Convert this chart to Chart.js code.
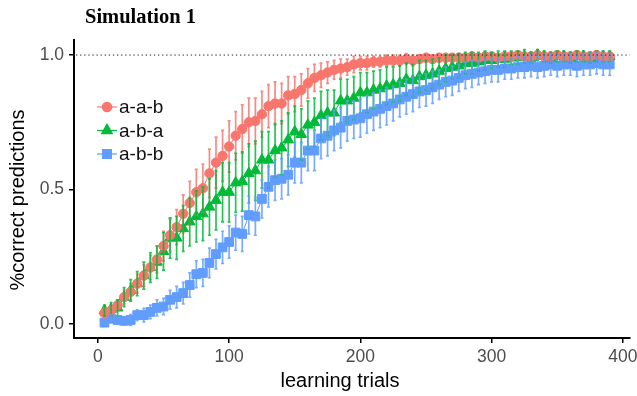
<!DOCTYPE html>
<html>
<head>
<meta charset="utf-8">
<script src="https://cdn.jsdelivr.net/npm/chart.js@4.4.0/dist/chart.umd.min.js"></script>
<style>
  html, body { margin: 0; padding: 0; background: #fff; }
  #wrap { width: 637px; height: 396px; position: relative; }
</style>
</head>
<body>
<div id="wrap"><canvas id="chart" width="637" height="396"></canvas></div>
<script>
// data
const trials = [
  5, 10, 15, 20, 25, 30, 35, 40, 45, 50,
  55, 60, 65, 70, 75, 80, 85, 90, 95, 100,
  105, 110, 115, 120, 125, 130, 135, 140, 145, 150,
  155, 160, 165, 170, 175, 180, 185, 190, 195, 200,
  205, 210, 215, 220, 225, 230, 235, 240, 245, 250,
  255, 260, 265, 270, 275, 280, 285, 290, 295, 300,
  305, 310, 315, 320, 325, 330, 335, 340, 345, 350,
  355, 360, 365, 370, 375, 380, 385, 390
];

const seriesLabels = ['a-a-b', 'a-b-a', 'a-b-b'];

const aabMean = [
  0.04, 0.05, 0.07, 0.10, 0.12, 0.15, 0.18, 0.21, 0.24, 0.29,
  0.33, 0.36, 0.41, 0.45, 0.49, 0.505, 0.56, 0.60, 0.625, 0.66,
  0.70, 0.725, 0.75, 0.755, 0.78, 0.81, 0.82, 0.82, 0.85, 0.855,
  0.87, 0.895, 0.915, 0.925, 0.935, 0.945, 0.95, 0.955, 0.965, 0.97,
  0.97, 0.975, 0.975, 0.98, 0.98, 0.98, 0.985, 0.98, 0.985, 0.99,
  0.985, 0.99, 0.99, 0.99, 0.99, 0.99, 0.995, 0.99, 0.995, 0.995,
  0.99, 0.995, 0.995, 1.0, 0.995, 0.995, 1.0, 0.995, 0.995, 1.0,
  0.995, 0.995, 1.0, 0.995, 0.995, 1.0, 0.995, 0.995
];
const abaMean = [
  0.05, 0.055, 0.06, 0.10, 0.125, 0.15, 0.18, 0.21, 0.23, 0.27,
  0.32, 0.32, 0.355, 0.38, 0.40, 0.41, 0.435, 0.46, 0.49, 0.49,
  0.525, 0.53, 0.56, 0.57, 0.61, 0.61, 0.645, 0.655, 0.685, 0.715,
  0.705, 0.74, 0.75, 0.775, 0.785, 0.785, 0.83, 0.83, 0.84, 0.86,
  0.86, 0.87, 0.875, 0.885, 0.89, 0.895, 0.91, 0.905, 0.92, 0.925,
  0.93, 0.94, 0.95, 0.955, 0.96, 0.97, 0.97, 0.975, 0.98, 0.98,
  0.985, 0.985, 0.99, 0.99, 0.995, 0.99, 1.0, 0.995, 0.99, 0.995,
  0.995, 0.99, 0.995, 0.995, 0.99, 0.995, 0.995, 0.995
];
const abbMean = [
  0.005, 0.02, 0.015, 0.012, 0.015, 0.033, 0.033, 0.045, 0.06, 0.065,
  0.09, 0.10, 0.115, 0.145, 0.185, 0.19, 0.227, 0.26, 0.285, 0.305,
  0.34, 0.335, 0.405, 0.40, 0.465, 0.51, 0.535, 0.54, 0.555, 0.60,
  0.60, 0.645, 0.645, 0.69, 0.70, 0.72, 0.73, 0.755, 0.76, 0.765,
  0.78, 0.79, 0.80, 0.81, 0.82, 0.835, 0.845, 0.855, 0.865, 0.87,
  0.88, 0.89, 0.90, 0.905, 0.915, 0.925, 0.93, 0.935, 0.94, 0.945,
  0.945, 0.95, 0.95, 0.955, 0.955, 0.96, 0.955, 0.96, 0.965, 0.96,
  0.965, 0.965, 0.96, 0.965, 0.965, 0.97, 0.965, 0.965
];

// error bar half widths
const aabErr = [
  0.02, 0.02, 0.02, 0.025, 0.03, 0.035, 0.04, 0.045, 0.05, 0.055,
  0.06, 0.065, 0.07, 0.08, 0.085, 0.09, 0.09, 0.095, 0.095, 0.095,
  0.09, 0.09, 0.09, 0.085, 0.085, 0.08, 0.08, 0.075, 0.07, 0.065,
  0.06, 0.055, 0.05, 0.045, 0.04, 0.035, 0.035, 0.03, 0.03, 0.025,
  0.025, 0.02, 0.02, 0.02, 0.02, 0.02, 0.02, 0.02, 0.015, 0.015,
  0.015, 0.015, 0.015, 0.015, 0.015, 0.01, 0.01, 0.01, 0.01, 0.01,
  0.01, 0.01, 0.01, 0.01, 0.01, 0.01, 0.01, 0.01, 0.01, 0.01,
  0.01, 0.01, 0.01, 0.01, 0.01, 0.01, 0.01, 0.01
];
const abaErr = [
  0.02, 0.025, 0.03, 0.035, 0.04, 0.045, 0.05, 0.055, 0.06, 0.07,
  0.075, 0.08, 0.085, 0.09, 0.095, 0.10, 0.105, 0.11, 0.11, 0.11,
  0.11, 0.11, 0.11, 0.11, 0.105, 0.105, 0.10, 0.10, 0.10, 0.095,
  0.095, 0.09, 0.09, 0.09, 0.085, 0.085, 0.08, 0.08, 0.08, 0.075,
  0.075, 0.07, 0.07, 0.07, 0.065, 0.065, 0.06, 0.06, 0.06, 0.055,
  0.055, 0.05, 0.05, 0.045, 0.045, 0.04, 0.04, 0.035, 0.035, 0.03,
  0.03, 0.03, 0.025, 0.025, 0.025, 0.02, 0.02, 0.02, 0.02, 0.02,
  0.02, 0.02, 0.02, 0.02, 0.02, 0.02, 0.02, 0.02
];
const abbErr = [
  0.01, 0.015, 0.015, 0.015, 0.02, 0.02, 0.025, 0.025, 0.03, 0.03,
  0.035, 0.04, 0.04, 0.045, 0.05, 0.05, 0.055, 0.055, 0.06, 0.06,
  0.065, 0.065, 0.07, 0.07, 0.07, 0.075, 0.075, 0.075, 0.075, 0.075,
  0.075, 0.075, 0.075, 0.075, 0.075, 0.075, 0.075, 0.075, 0.07, 0.07,
  0.07, 0.07, 0.07, 0.07, 0.065, 0.065, 0.065, 0.065, 0.06, 0.06,
  0.06, 0.055, 0.055, 0.055, 0.05, 0.05, 0.05, 0.045, 0.045, 0.045,
  0.045, 0.04, 0.04, 0.04, 0.04, 0.04, 0.04, 0.04, 0.04, 0.04,
  0.04, 0.04, 0.04, 0.04, 0.04, 0.04, 0.04, 0.04
];

const xTicks = [0, 100, 200, 300, 400];
const yTicks = [0, 0.5, 1.0];
const refLine = 1.0;

const colors = ['#F8766D', '#00BA38', '#619CFF'];
const styles = ['circle', 'triangle', 'rect'];
const radii = [4.7, 6.2, 6.2];
const means = [aabMean, abaMean, abbMean];
const errs = [aabErr, abaErr, abbErr];

const sansFont = '"Liberation Sans", Arial, sans-serif';

const extras = {
  id: 'extras',
  afterDatasetsDraw(chart) {
    const { ctx, chartArea } = chart;
    const xs = chart.scales.x, ys = chart.scales.y;

    // error bars on top of points, like the ggplot layer order
    ctx.save();
    ctx.globalAlpha = 0.85;
    ctx.lineWidth = 1.7;
    means.forEach((m, s) => {
      ctx.strokeStyle = colors[s];
      trials.forEach((t, i) => {
        const px = xs.getPixelForValue(t);
        const lo = ys.getPixelForValue(m[i] - errs[s][i]);
        const hi = ys.getPixelForValue(m[i] + errs[s][i]);
        ctx.beginPath();
        ctx.moveTo(px, lo); ctx.lineTo(px, hi);
        ctx.moveTo(px - 1.5, lo); ctx.lineTo(px + 1.5, lo);
        ctx.moveTo(px - 1.5, hi); ctx.lineTo(px + 1.5, hi);
        ctx.stroke();
      });
    });
    ctx.restore();

    // dotted reference line at 1.0
    const yy = ys.getPixelForValue(refLine);
    ctx.save();
    ctx.strokeStyle = '#222';
    ctx.lineWidth = 1;
    ctx.setLineDash([1.3, 2.8]);
    ctx.beginPath();
    ctx.moveTo(chartArea.left + 2, yy);
    ctx.lineTo(chartArea.right, yy);
    ctx.stroke();
    ctx.restore();
  },
  afterDraw(chart) {
    const { ctx } = chart;
    ctx.save();
    // title
    ctx.fillStyle = '#000';
    ctx.font = 'bold 20.5px "Liberation Serif", serif';
    ctx.textBaseline = 'middle';
    ctx.textAlign = 'left';
    ctx.fillText('Simulation 1', 85, 18);

    // axis titles
    ctx.font = '20px ' + sansFont;
    ctx.textAlign = 'center';
    ctx.fillText('learning trials', 340, 381);
    ctx.save();
    ctx.translate(18, 200);
    ctx.rotate(-Math.PI / 2);
    ctx.fillText('%correct predictions', 0, 0);
    ctx.restore();

    // legend
    ctx.font = '19px ' + sansFont;
    ctx.textAlign = 'left';
    seriesLabels.forEach((lab, i) => {
      const y = 107 + i * 23.5;
      ctx.strokeStyle = colors[i];
      ctx.lineWidth = 1.2;
      ctx.beginPath();
      ctx.moveTo(97, y); ctx.lineTo(117, y);
      ctx.stroke();
      ctx.fillStyle = colors[i];
      ctx.strokeStyle = colors[i];
      Chart.helpers.drawPoint(ctx, { pointStyle: styles[i], radius: radii[i], rotation: 0, borderWidth: 1 }, 107, y);
      ctx.fillStyle = '#111';
      ctx.fillText(lab, 119, y + 1);
    });
    ctx.restore();
  }
};

new Chart(document.getElementById('chart'), {
  type: 'line',
  data: {
    datasets: seriesLabels.map((lab, s) => ({
      label: lab,
      data: trials.map((t, i) => ({ x: t, y: means[s][i] })),
      borderColor: colors[s],
      backgroundColor: colors[s],
      borderWidth: 1,
      pointStyle: styles[s],
      pointRadius: radii[s],
      pointBorderWidth: 1,
      pointHoverRadius: radii[s]
    }))
  },
  options: {
    responsive: false,
    animation: false,
    events: [],
    layout: { padding: { top: 40, right: 4, left: 0, bottom: 0 } },
    plugins: {
      legend: { display: false },
      tooltip: { enabled: false }
    },
    scales: {
      x: {
        type: 'linear',
        min: -18.2,
        max: 405.3,
        afterBuildTicks: s => { s.ticks = xTicks.map(v => ({ value: v })); },
        afterFit: s => { s.height = 58; s.paddingLeft = 0; s.paddingRight = 0; },
        grid: { drawOnChartArea: false, tickLength: 5, tickColor: '#000', lineWidth: 1.5 },
        border: { display: true, color: '#000', width: 2 },
        ticks: { color: '#4d4d4d', font: { family: sansFont, size: 17.5 }, padding: 4, maxRotation: 0 },
        title: { display: false }
      },
      y: {
        min: -0.052,
        max: 1.056,
        afterBuildTicks: s => { s.ticks = yTicks.map(v => ({ value: v })); },
        afterFit: s => { s.width = 74; s.paddingTop = 0; s.paddingBottom = 0; },
        grid: { drawOnChartArea: false, tickLength: 5, tickColor: '#000', lineWidth: 1.5 },
        border: { display: true, color: '#000', width: 2 },
        ticks: { color: '#4d4d4d', font: { family: sansFont, size: 17.5 }, padding: 5, callback: v => v.toFixed(1) },
        title: { display: false }
      }
    }
  },
  plugins: [extras]
});
</script>
</body>
</html>
